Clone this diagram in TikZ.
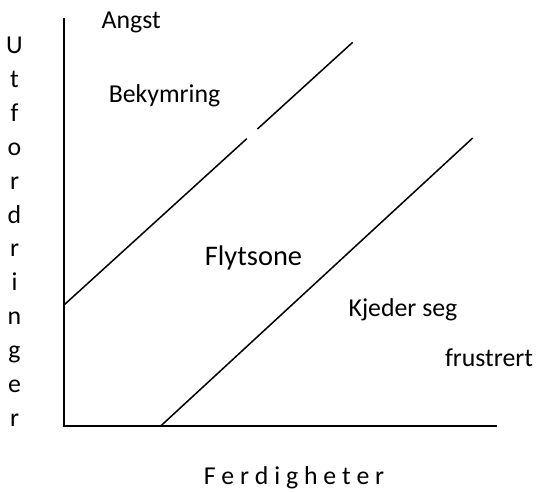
\documentclass[tikz,border=0pt]{standalone}
\usepackage{fontspec}
\setmainfont{Carlito}
\usetikzlibrary{calc}
\begin{document}
\begin{tikzpicture}[x=1pt,y=-1pt,
  axisline/.style={line width=1.7pt,black},
  zoneline/.style={line width=1.5pt,black},
  lbl/.style={inner sep=0pt,anchor=base,font=\fontsize{25.8}{30}\selectfont},
  biglbl/.style={inner sep=0pt,anchor=base,font=\fontsize{28.4}{33}\selectfont}]
\useasboundingbox (0,0) rectangle (537,491);
% axes
\coordinate (Ytop) at (64,18);
\coordinate (O) at (64,426);
\coordinate (Xend) at (497,426);
\draw[axisline] (Ytop) -- (O) -- (Xend);
% upper line with a small gap
\coordinate (A1) at (64,305);
\coordinate (A2) at (352.7,42.3);
\coordinate (G1) at ($(A1)!0.633!(A2)$);
\coordinate (G2) at ($(A1)!0.670!(A2)$);
\draw[zoneline] (A1) -- (G1);
\draw[zoneline] (G2) -- (A2);
% lower line
\coordinate (B1) at (160.7,426);
\coordinate (B2) at (472.7,138);
\draw[zoneline] (B1) -- (B2);
% labels
\node[lbl] (angst) at (131.2,28.5) {Angst};
\node[lbl] (bek) at (164.5,102.7) {Bekymring};
\node[biglbl] (flyt) at (253.5,265) {Flytsone};
\node[lbl] (kjed) at (403,316.7) {Kjeder seg};
\node[lbl] (frus) at (489,366) {frustrert};
\node[lbl] (ferd) at (294,484) {F e r d i g h e t e r};
% vertical axis label
\foreach \ch [count=\i from 0] in {U,t,f,o,r,d,r,i,n,g,e,r}{
  \node[lbl] (v\i) at (14.5,53.5+33.9*\i) {\ch};
}
\end{tikzpicture}
\end{document}
